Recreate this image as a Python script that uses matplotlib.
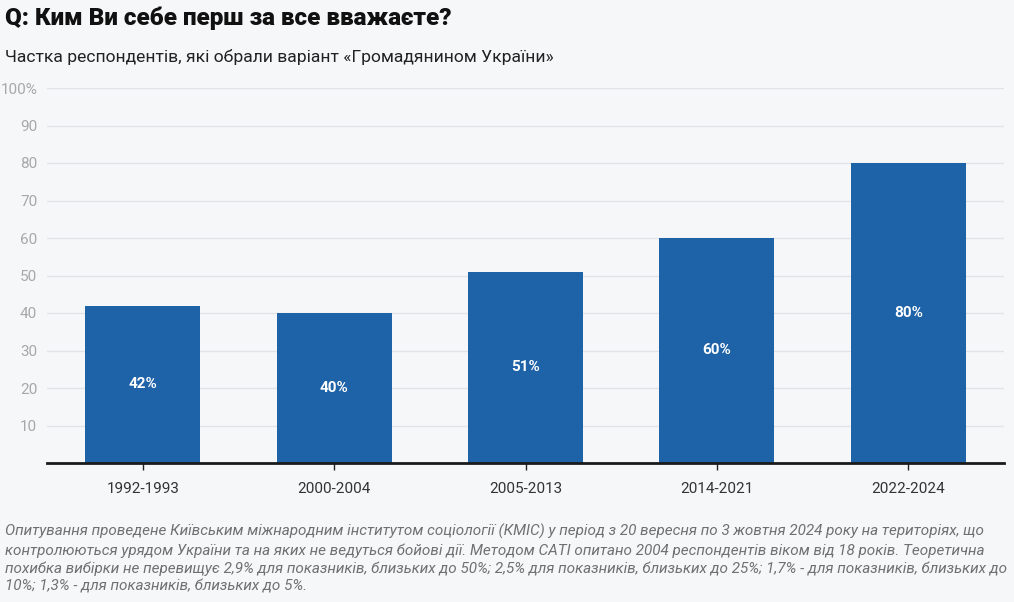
import matplotlib.pyplot as plt
import numpy as np

periods = ['1992-1993', '2000-2004', '2005-2013', '2014-2021', '2022-2024']
shares = [42, 40, 51, 60, 80]
y_ticks = [10, 20, 30, 40, 50, 60, 70, 80, 90, 100]
y_tick_labels = ['10', '20', '30', '40', '50', '60', '70', '80', '90', '100%']

title = 'Q: Ким Ви себе перш за все вважаєте?'
subtitle = 'Частка респондентів, які обрали варіант «Громадянином України»'
note = ('Опитування проведене Київським міжнародним інститутом соціології (КМІС) у період з 20 вересня по 3 жовтня 2024 року на територіях, що\n'
        'контролюються урядом України та на яких не ведуться бойові дії. Методом CATI опитано 2004 респондентів віком від 18 років. Теоретична\n'
        'похибка вибірки не перевищує 2,9% для показників, близьких до 50%; 2,5% для показників, близьких до 25%; 1,7% - для показників, близьких до\n'
        '10%; 1,3% - для показників, близьких до 5%.')

BG = '#f6f7f9'
BAR = '#1e62a8'

plt.rcParams['font.family'] = ['Roboto', 'DejaVu Sans']

W, H = 1014, 602
fig = plt.figure(figsize=(W / 100, H / 100), dpi=100, facecolor=BG)
ax = fig.add_axes([47 / W, (H - 463) / H, (1004 - 47) / W, (463 - 88) / H])
ax.set_facecolor(BG)

x = np.arange(len(periods))
ax.bar(x, shares, width=0.6, color=BAR, zorder=3)
for xi, v in zip(x, shares):
    ax.text(xi, v / 2, f'{v}%', ha='center', va='center', color='white',
            fontsize=11, fontweight='bold', zorder=4)

ax.set_xlim(-0.5, len(periods) - 0.5)
ax.set_ylim(0, 100)
ax.set_yticks(y_ticks)
ax.set_yticklabels(y_tick_labels)
ax.set_xticks(x)
ax.set_xticklabels(periods)
ax.grid(axis='y', color='#e2e3e6', linewidth=1, zorder=0)
ax.tick_params(axis='y', length=0, pad=7, labelsize=11, labelcolor='#a8a8a8')
ax.tick_params(axis='x', length=5, width=1, color='#222222', pad=9,
               labelsize=11, labelcolor='#333333')
for s in ['top', 'right', 'left']:
    ax.spines[s].set_visible(False)
ax.spines['bottom'].set_color('#1a1a1a')
ax.spines['bottom'].set_linewidth(2)
ax.spines['bottom'].set_zorder(5)

fig.text(5 / W, 1 - 18 / H, title, fontsize=17.5, fontweight='heavy',
         color='#111111', va='center', ha='left')
fig.text(5 / W, 1 - 57 / H, subtitle, fontsize=12.6, color='#222222',
         va='center', ha='left')
fig.text(5 / W, 1 - 524 / H, note, fontsize=10.95, style='italic',
         color='#707070', va='top', ha='left', linespacing=1.33)

fig.savefig('out.png', dpi=100, facecolor=BG)
